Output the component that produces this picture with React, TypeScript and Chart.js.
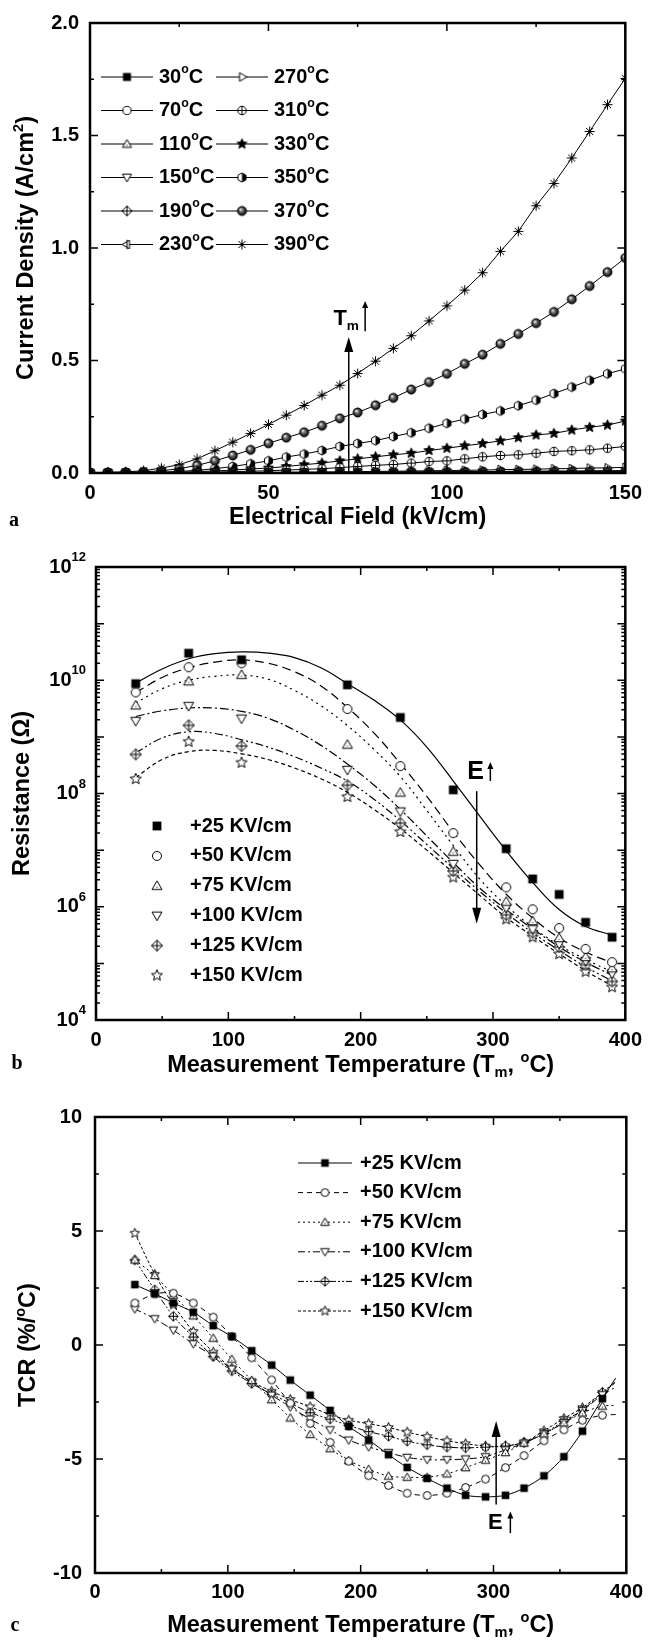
import { useEffect, useRef } from 'react';
import { Chart, registerables } from 'chart.js';
Chart.register(...registerables);

const FONT = '"Liberation Sans", Arial, Helvetica, sans-serif';
const SERIF = '"Liberation Serif", "Times New Roman", serif';

// ---------------- Panel a : current density vs field ----------------
const fieldA = [0, 5, 10, 15, 20, 25, 30, 35, 40, 45, 50, 55, 60, 65, 70, 75, 80, 85, 90, 95, 100, 105, 110, 115, 120, 125, 130, 135, 140, 145, 150];
const tempLabelsA = ['30', '70', '110', '150', '190', '230', '270', '310', '330', '350', '370', '390'];
const jd30 = [0, 0, 0, 0, 0, 0, 0, 0, 0, 0, 0, 0, 0, 0, 0, 0, 0, 0, 0, 0, 0, 0, 0, 0, 0, 0, 0, 0, 0, 0, 0];
const jd70 = [0, 0, 0, 0, 0, 0, 0, 0, 0, 0, 0, 0, 0, 0, 0, 0, 0, 0, 0, 0, 0.001, 0.001, 0.001, 0.001, 0.001, 0.001, 0.001, 0.002, 0.002, 0.002, 0.002];
const jd110 = [0, 0, 0, 0, 0, 0, 0, 0, 0, 0, 0, 0, 0, 0, 0.001, 0.001, 0.001, 0.001, 0.001, 0.001, 0.001, 0.002, 0.002, 0.002, 0.002, 0.002, 0.003, 0.003, 0.003, 0.003, 0.004];
const jd150 = [0, 0, 0, 0, 0, 0, 0, 0, 0, 0, 0.001, 0.001, 0.001, 0.001, 0.001, 0.002, 0.002, 0.002, 0.002, 0.003, 0.003, 0.003, 0.003, 0.004, 0.004, 0.004, 0.005, 0.005, 0.005, 0.006, 0.006];
const jd190 = [0, 0, 0, 0, 0, 0, 0, 0, 0.001, 0.001, 0.001, 0.001, 0.002, 0.002, 0.002, 0.003, 0.003, 0.003, 0.004, 0.004, 0.004, 0.005, 0.005, 0.005, 0.006, 0.006, 0.007, 0.007, 0.007, 0.008, 0.008];
const jd230 = [0, 0, 0, 0, 0, 0, 0, 0.001, 0.001, 0.001, 0.002, 0.002, 0.002, 0.003, 0.003, 0.003, 0.004, 0.004, 0.005, 0.005, 0.006, 0.006, 0.007, 0.007, 0.008, 0.008, 0.009, 0.009, 0.010, 0.010, 0.011];
const jd270 = [0, 0, 0, 0, 0, 0, 0.001, 0.001, 0.002, 0.002, 0.003, 0.003, 0.004, 0.004, 0.005, 0.006, 0.007, 0.008, 0.009, 0.010, 0.011, 0.012, 0.013, 0.015, 0.016, 0.017, 0.019, 0.020, 0.022, 0.023, 0.025];
const jd310 = [0.001, 0.001, 0.001, 0.001, 0.001, 0.002, 0.003, 0.004, 0.006, 0.008, 0.010, 0.013, 0.016, 0.019, 0.024, 0.029, 0.034, 0.038, 0.044, 0.051, 0.054, 0.063, 0.072, 0.078, 0.081, 0.088, 0.096, 0.099, 0.103, 0.110, 0.118];
const jd330 = [0.001, 0.001, 0.001, 0.001, 0.002, 0.004, 0.006, 0.009, 0.013, 0.018, 0.022, 0.029, 0.037, 0.044, 0.054, 0.063, 0.072, 0.081, 0.088, 0.100, 0.110, 0.121, 0.131, 0.143, 0.157, 0.169, 0.176, 0.191, 0.203, 0.213, 0.231];
const jd350 = [0.001, 0.001, 0.001, 0.002, 0.004, 0.007, 0.012, 0.019, 0.029, 0.041, 0.054, 0.071, 0.084, 0.100, 0.118, 0.131, 0.144, 0.162, 0.179, 0.199, 0.221, 0.240, 0.260, 0.276, 0.299, 0.324, 0.353, 0.382, 0.412, 0.441, 0.463];
const jd370 = [0.001, 0.002, 0.003, 0.005, 0.010, 0.019, 0.034, 0.054, 0.078, 0.103, 0.132, 0.157, 0.181, 0.210, 0.243, 0.269, 0.301, 0.334, 0.371, 0.404, 0.441, 0.485, 0.526, 0.574, 0.618, 0.666, 0.716, 0.772, 0.831, 0.893, 0.956];
const jd390 = [0.002, 0.003, 0.005, 0.010, 0.022, 0.037, 0.063, 0.099, 0.137, 0.176, 0.216, 0.257, 0.300, 0.346, 0.390, 0.442, 0.497, 0.554, 0.610, 0.676, 0.743, 0.813, 0.890, 0.985, 1.074, 1.188, 1.287, 1.400, 1.518, 1.637, 1.754];
const seriesA = [jd30, jd70, jd110, jd150, jd190, jd230, jd270, jd310, jd330, jd350, jd370, jd390];

// ---------------- Panel b : resistance vs temperature ----------------
const fieldLabels = ['+25 KV/cm', '+50 KV/cm', '+75 KV/cm', '+100 KV/cm', '+125 KV/cm', '+150 KV/cm'];
const tempsB = [30, 70, 110, 190, 230, 270, 310, 330, 350, 370, 390];
const res25 = [8.7e9, 3.0e10, 2.3e10, 8.3e9, 2.2e9, 1.16e8, 1.06e7, 3.1e6, 1.65e6, 5.3e5, 2.9e5];
const res50 = [6.1e9, 1.7e10, 2.0e10, 3.1e9, 3.05e8, 2.0e7, 2.2e6, 9.0e5, 4.2e5, 1.8e5, 1.05e5];
const res75 = [3.6e9, 9.6e9, 1.25e10, 7.3e8, 1.04e8, 9.4e6, 1.23e6, 5.6e5, 2.8e5, 1.3e5, 8.2e4];
const res100 = [1.9e9, 3.5e9, 2.1e9, 2.6e8, 4.8e7, 5.7e6, 9.6e5, 4.0e5, 2.2e5, 1.1e5, 6.6e4];
const res125 = [4.9e8, 1.6e9, 6.9e8, 1.4e8, 3.0e7, 4.3e6, 7.2e5, 3.5e5, 1.95e5, 9.5e4, 4.8e4];
const res150 = [1.8e8, 8.2e8, 3.5e8, 8.7e7, 2.1e7, 3.3e6, 6.0e5, 2.9e5, 1.46e5, 7.1e4, 3.8e4];
const resB = [res25, res50, res75, res100, res125, res150];
// fitted curves (log10 of resistance) read at these temperatures
const fitT = [30, 50, 70, 90, 110, 130, 150, 170, 190, 210, 230, 250, 270, 290, 310, 330, 350, 370, 390];
const fit25Log = [9.95, 10.2, 10.38, 10.47, 10.5, 10.48, 10.4, 10.22, 9.94, 9.65, 9.3, 8.82, 8.22, 7.6, 6.99, 6.43, 5.95, 5.65, 5.5];
const fit50Log = [9.78, 10.05, 10.22, 10.32, 10.36, 10.3, 10.15, 9.9, 9.52, 9.07, 8.53, 7.95, 7.32, 6.74, 6.22, 5.8, 5.45, 5.2, 5.01];
const fit75Log = [9.6, 9.85, 10.0, 10.07, 10.09, 10.02, 9.82, 9.55, 9.2, 8.78, 8.3, 7.7, 7.08, 6.49, 6.02, 5.64, 5.32, 5.07, 4.85];
const fit100Log = [9.36, 9.46, 9.51, 9.51, 9.45, 9.33, 9.12, 8.85, 8.52, 8.15, 7.72, 7.25, 6.78, 6.33, 5.95, 5.61, 5.29, 5.02, 4.79];
const fit125Log = [8.72, 8.98, 9.09, 9.06, 8.95, 8.82, 8.65, 8.45, 8.22, 7.9, 7.52, 7.1, 6.68, 6.27, 5.89, 5.54, 5.23, 4.94, 4.69];
const fit150Log = [8.28, 8.6, 8.74, 8.76, 8.7, 8.6, 8.45, 8.26, 8.02, 7.72, 7.38, 7.0, 6.6, 6.2, 5.81, 5.48, 5.17, 4.87, 4.6];
const fitsB = [fit25Log, fit50Log, fit75Log, fit100Log, fit125Log, fit150Log];
const logLabelExps = [4, 6, 8, 10, 12];

// ---------------- Panel c : TCR vs temperature ----------------
const tempsC = [30, 45, 59, 74, 89, 103, 118, 133, 147, 162, 177, 191, 206, 221, 235, 250, 265, 279, 294, 309, 323, 338, 353, 367, 382, 392];
const tcr25 = [2.65, 2.25, 1.84, 1.44, 0.85, 0.37, -0.25, -0.88, -1.54, -2.2, -2.87, -3.57, -4.16, -4.81, -5.37, -5.85, -6.28, -6.59, -6.66, -6.59, -6.28, -5.74, -4.9, -3.78, -2.35, -1.45];
const tcr50 = [1.84, 2.24, 2.27, 1.84, 1.22, 0.38, -0.56, -1.53, -2.55, -3.44, -4.27, -5.1, -5.73, -6.16, -6.5, -6.6, -6.5, -6.25, -5.88, -5.38, -4.85, -4.2, -3.72, -3.3, -3.08, -3.05];
const tcr75 = [3.73, 3.05, 2.18, 1.28, 0.3, -0.62, -1.55, -2.4, -3.2, -3.92, -4.55, -5.07, -5.45, -5.75, -5.8, -5.8, -5.65, -5.38, -5.05, -4.72, -4.3, -3.9, -3.42, -2.98, -2.68, -2.65];
const tcr100 = [1.58, 1.15, 0.65, 0.05, -0.48, -1.05, -1.62, -2.2, -2.72, -3.25, -3.72, -4.17, -4.47, -4.72, -4.93, -5.03, -5.03, -5.0, -4.9, -4.6, -4.3, -3.9, -3.4, -2.88, -2.18, -1.85];
const tcr125 = [3.73, 2.42, 1.26, 0.35, -0.51, -1.14, -1.69, -2.16, -2.55, -2.97, -3.25, -3.53, -3.8, -4.0, -4.22, -4.38, -4.48, -4.51, -4.48, -4.43, -4.27, -3.88, -3.33, -2.86, -2.08, -1.6];
const tcr150 = [4.9, 3.1, 1.76, 0.59, -0.31, -1.03, -1.61, -2.03, -2.39, -2.71, -3.05, -3.3, -3.45, -3.62, -3.82, -4.02, -4.2, -4.33, -4.43, -4.43, -4.27, -3.76, -3.22, -2.75, -2.08, -1.65];
const tcrC = [tcr25, tcr50, tcr75, tcr100, tcr125, tcr150];

// ---------------- styles ----------------
const kindsA = ['square', 'circle', 'triUp', 'triDown', 'diamondCross', 'triLeftBar', 'triRight', 'circlePlus', 'starFilled', 'halfHex', 'ball', 'asterisk'];
const kindsE = ['square', 'circle', 'triUp', 'triDown', 'diamondCross', 'starOpen'];
const dashesB = [[], [9, 5], [2, 4], [9, 3, 2, 3], [8, 3, 2, 3, 2, 3], [4, 3]];
const dashesC = [[], [5, 4], [2, 3], [7, 3, 2, 3], [6, 2, 2, 2, 2, 2], [3, 2]];

function poly(g: any, pts: number[][]) {
  g.beginPath();
  pts.forEach(([x, y], i) => (i ? g.lineTo(x, y) : g.moveTo(x, y)));
  g.closePath();
}
function regPts(n: number, r: number, rot: number) {
  const p: number[][] = [];
  for (let k = 0; k < n; k++) {
    const a = rot - Math.PI / 2 + (k * 2 * Math.PI) / n;
    p.push([r * Math.cos(a), r * Math.sin(a)]);
  }
  return p;
}
function starPts(r: number) {
  const p: number[][] = [];
  for (let k = 0; k < 10; k++) {
    const a = -Math.PI / 2 + (k * Math.PI) / 5;
    const rr = k % 2 ? r * 0.45 : r;
    p.push([rr * Math.cos(a), rr * Math.sin(a)]);
  }
  return p;
}
function drawShape(g: any, kind: string, r: number) {
  g.lineWidth = 1;
  g.strokeStyle = '#000';
  g.fillStyle = '#fff';
  const line = (x1: number, y1: number, x2: number, y2: number) => {
    g.beginPath(); g.moveTo(x1, y1); g.lineTo(x2, y2); g.stroke();
  };
  switch (kind) {
    case 'square':
      g.fillStyle = '#000';
      g.fillRect(-r * 0.8, -r * 0.8, r * 1.6, r * 1.6);
      break;
    case 'circle':
      g.beginPath(); g.arc(0, 0, r * 0.82, 0, Math.PI * 2); g.fill(); g.stroke();
      break;
    case 'circlePlus':
      g.beginPath(); g.arc(0, 0, r * 0.85, 0, Math.PI * 2); g.fill(); g.stroke();
      line(-r * 0.85, 0, r * 0.85, 0); line(0, -r * 0.85, 0, r * 0.85);
      break;
    case 'triUp':
      g.translate(0, r * 0.15);
      poly(g, regPts(3, r * 1.05, 0)); g.fill(); g.stroke();
      g.fillStyle = '#000'; g.fillRect(-0.5, 0, 1, 1);
      break;
    case 'triDown':
      g.translate(0, -r * 0.15);
      poly(g, regPts(3, r * 1.05, Math.PI)); g.fill(); g.stroke();
      break;
    case 'triRight':
      poly(g, regPts(3, r * 1.0, Math.PI / 2)); g.fill(); g.stroke();
      break;
    case 'triLeftBar':
      poly(g, regPts(3, r * 1.0, -Math.PI / 2)); g.fill(); g.stroke();
      line(0, -r * 0.95, 0, r * 0.95);
      break;
    case 'diamondCross':
      poly(g, [[0, -r], [r, 0], [0, r], [-r, 0]]); g.fill(); g.stroke();
      line(-r, 0, r, 0); line(0, -r, 0, r);
      break;
    case 'starFilled':
      poly(g, starPts(r * 1.05)); g.fillStyle = '#000'; g.fill(); g.stroke();
      break;
    case 'starOpen':
      poly(g, starPts(r * 1.05)); g.fill(); g.stroke();
      break;
    case 'halfHex': {
      const pts = regPts(6, r * 0.92, 0);
      poly(g, pts); g.fill();
      g.save(); poly(g, pts); g.clip();
      g.fillStyle = '#000'; g.fillRect(0, -r, r, 2 * r);
      g.restore();
      poly(g, pts); g.stroke();
      break;
    }
    case 'ball': {
      const gr = g.createRadialGradient(-r * 0.3, -r * 0.35, r * 0.05, 0, 0, r * 0.9);
      gr.addColorStop(0, '#ffffff');
      gr.addColorStop(0.35, '#777777');
      gr.addColorStop(1, '#000000');
      g.beginPath(); g.arc(0, 0, r * 0.9, 0, Math.PI * 2); g.fillStyle = gr; g.fill();
      g.stroke();
      break;
    }
    case 'asterisk':
      for (let k = 0; k < 4; k++) {
        const a = (k * Math.PI) / 4;
        line(-r * Math.cos(a), -r * Math.sin(a), r * Math.cos(a), r * Math.sin(a));
      }
      break;
  }
}
function makeMarker(kind: string, size: number): HTMLCanvasElement {
  const s = Math.ceil(size) + 5;
  const c = document.createElement('canvas');
  c.width = s; c.height = s;
  const g = c.getContext('2d') as any;
  g.translate(s / 2, s / 2);
  drawShape(g, kind, size / 2);
  return c;
}

type Seg = [string, number];
function drawRich(ctx: any, segs: Seg[], x: number, y: number, size: number, align: string) {
  const small = size * 0.62;
  ctx.textBaseline = 'middle';
  ctx.textAlign = 'left';
  ctx.fillStyle = '#000';
  const widths = segs.map(([t, k]) => {
    ctx.font = `bold ${k ? small : size}px ${FONT}`;
    return ctx.measureText(t).width;
  });
  const total = widths.reduce((a, b) => a + b, 0);
  let cx = align === 'left' ? x : align === 'center' ? x - total / 2 : x - total;
  segs.forEach(([t, k], i) => {
    ctx.font = `bold ${k ? small : size}px ${FONT}`;
    const dy = k === 1 ? -size * 0.36 : k === -1 ? size * 0.3 : 0;
    ctx.fillText(t, cx, y + dy);
    cx += widths[i];
  });
}
function drawRotated(ctx: any, segs: Seg[], x: number, y: number, size: number) {
  ctx.save();
  ctx.translate(x, y);
  ctx.rotate(-Math.PI / 2);
  drawRich(ctx, segs, 0, 0, size, 'center');
  ctx.restore();
}
function vArrow(ctx: any, x: number, yFrom: number, yTo: number, head: number, hw: number, lw: number) {
  const dir = yTo < yFrom ? -1 : 1;
  ctx.save();
  ctx.strokeStyle = '#000';
  ctx.fillStyle = '#000';
  ctx.lineWidth = lw;
  ctx.beginPath(); ctx.moveTo(x, yFrom); ctx.lineTo(x, yTo - dir * head * 0.7); ctx.stroke();
  ctx.beginPath(); ctx.moveTo(x, yTo); ctx.lineTo(x - hw, yTo - dir * head); ctx.lineTo(x + hw, yTo - dir * head); ctx.closePath(); ctx.fill();
  ctx.restore();
}
function drawFrame(chart: any, xMaj: number[], xMin: number[], yMaj: number[], yMin: number[]) {
  const { ctx, chartArea: a, scales } = chart;
  const xs = scales.x, ys = scales.y;
  ctx.save();
  ctx.strokeStyle = '#000';
  ctx.lineWidth = 1.5;
  const xt = (v: number, len: number) => {
    const p = xs.getPixelForValue(v);
    ctx.beginPath();
    ctx.moveTo(p, a.bottom); ctx.lineTo(p, a.bottom - len);
    ctx.moveTo(p, a.top); ctx.lineTo(p, a.top + len);
    ctx.stroke();
  };
  const yt = (v: number, len: number) => {
    const p = ys.getPixelForValue(v);
    ctx.beginPath();
    ctx.moveTo(a.left, p); ctx.lineTo(a.left + len, p);
    ctx.moveTo(a.right, p); ctx.lineTo(a.right - len, p);
    ctx.stroke();
  };
  xMaj.forEach((v) => xt(v, 8));
  xMin.forEach((v) => xt(v, 4));
  yMaj.forEach((v) => yt(v, 8));
  yMin.forEach((v) => yt(v, 4));
  ctx.lineWidth = 2.5;
  ctx.strokeRect(a.left, a.top, a.right - a.left, a.bottom - a.top);
  ctx.restore();
}
function panelLabel(ctx: any, t: string, x: number, y: number) {
  ctx.save();
  ctx.font = `bold 20px ${SERIF}`;
  ctx.fillStyle = '#000';
  ctx.textAlign = 'center';
  ctx.textBaseline = 'middle';
  ctx.fillText(t, x, y);
  ctx.restore();
}

const tickFont = { family: FONT, size: 20, weight: 'bold' as const };
function linScale(min: number, max: number, step: number, pad: number, horizontal: boolean, fmt?: any) {
  const ticks: any = { stepSize: step, padding: pad, font: tickFont, color: '#000', autoSkip: false, maxRotation: 0, includeBounds: true };
  if (fmt) ticks.callback = fmt;
  return {
    type: 'linear', min, max,
    grid: { display: false, drawTicks: false },
    border: { display: false },
    ticks,
    afterFit: horizontal ? (s: any) => { s.height = 40; } : (s: any) => { s.width = 70; },
  };
}
const common = {
  responsive: false,
  animation: false,
  devicePixelRatio: 1,
  events: [],
  plugins: { legend: { display: false }, tooltip: { enabled: false } },
};

function buildA(canvas: HTMLCanvasElement) {
  const markers = kindsA.map((k) => makeMarker(k, 10));
  const datasets = seriesA.map((vals, i) => ({
    label: tempLabelsA[i],
    data: vals.map((v, k) => ({ x: fieldA[k], y: v })),
    borderColor: '#000', backgroundColor: '#000', borderWidth: 1,
    pointStyle: markers[i], pointRadius: 5, tension: 0, fill: false,
  }));
  return new Chart(canvas, {
    type: 'line',
    data: { datasets },
    options: {
      ...common,
      layout: { padding: { left: 20, right: 21, top: 19, bottom: 32 } },
      scales: {
        x: linScale(0, 150, 50, 8, true),
        y: linScale(0, 2, 0.5, 11, false, (v: any) => Number(v).toFixed(1)),
      },
    } as any,
    plugins: [{
      id: 'decoA',
      afterDraw(chart: any) {
        const { ctx, chartArea: a, scales: { x, y } } = chart;
        drawFrame(chart, [0, 50, 100, 150], [25, 75, 125], [0, 0.5, 1, 1.5, 2], [0.25, 0.75, 1.25, 1.75]);
        drawRich(ctx, [['Electrical Field (kV/cm)', 0]], (a.left + a.right) / 2, 518, 23.5, 'center');
        drawRotated(ctx, [['Current Density (A/cm', 0], ['2', 1], [')', 0]], 27, (a.top + a.bottom) / 2, 23.5);
        panelLabel(ctx, 'a', 14, 521);
        // legend
        ctx.save();
        tempLabelsA.forEach((t, i) => {
          const col = Math.floor(i / 6), row = i % 6;
          const dx = col * 115, yy = 77 + row * 33.5;
          ctx.strokeStyle = '#000'; ctx.lineWidth = 1;
          ctx.beginPath(); ctx.moveTo(101 + dx, yy); ctx.lineTo(153 + dx, yy); ctx.stroke();
          const m = markers[i];
          ctx.drawImage(m, 127 + dx - m.width / 2, yy - m.height / 2);
          drawRich(ctx, [[t, 0], ['o', 1], ['C', 0]], 159 + dx, yy, 20, 'left');
        });
        ctx.restore();
        // Tm arrow
        const ax = x.getPixelForValue(72.5);
        vArrow(ctx, ax, y.getPixelForValue(0), y.getPixelForValue(0.605), 15, 4.5, 1.5);
        drawRich(ctx, [['T', 0], ['m', -1]], x.getPixelForValue(68.2), y.getPixelForValue(0.683), 22, 'left');
        const sx = x.getPixelForValue(77.1);
        vArrow(ctx, sx, y.getPixelForValue(0.63), y.getPixelForValue(0.765), 7, 3, 1.5);
      },
    }],
  } as any);
}

function buildB(canvas: HTMLCanvasElement) {
  const markers = kindsE.map((k) => makeMarker(k, 11));
  const pts = resB.map((vals, i) => ({
    label: fieldLabels[i],
    data: vals.map((v, k) => ({ x: tempsB[k], y: v })),
    showLine: false, borderColor: '#000', backgroundColor: '#000',
    pointStyle: markers[i], pointRadius: 5.5,
  }));
  const fits = fitsB.map((vals, i) => ({
    label: fieldLabels[i] + ' fit',
    data: vals.map((v, k) => ({ x: fitT[k], y: Math.pow(10, v) })),
    borderColor: '#000', borderWidth: 1.2, borderDash: dashesB[i],
    pointRadius: 0, tension: 0.4, fill: false,
  }));
  return new Chart(canvas, {
    type: 'line',
    data: { datasets: [...pts, ...fits] },
    options: {
      ...common,
      layout: { padding: { left: 26, right: 17, top: 22, bottom: 30 } },
      scales: {
        x: linScale(0, 400, 100, 8, true),
        y: {
          type: 'logarithmic', min: 1e4, max: 1e12,
          grid: { display: false, drawTicks: false }, border: { display: false },
          ticks: { display: false },
          afterFit: (s: any) => { s.width = 70; },
        },
      },
    } as any,
    plugins: [{
      id: 'decoB',
      afterDraw(chart: any) {
        const { ctx, chartArea: a, scales: { x, y } } = chart;
        const yMaj: number[] = [], yMin: number[] = [];
        for (let e = 4; e <= 12; e++) {
          yMaj.push(Math.pow(10, e));
          if (e < 12) for (let k = 2; k <= 9; k++) yMin.push(k * Math.pow(10, e));
        }
        drawFrame(chart, [0, 100, 200, 300, 400], [50, 150, 250, 350], yMaj, yMin);
        ctx.save();
        ctx.fillStyle = '#000';
        ctx.textBaseline = 'middle';
        logLabelExps.forEach((e) => {
          const py = y.getPixelForValue(Math.pow(10, e));
          ctx.font = `bold 13px ${FONT}`;
          const ew = ctx.measureText(String(e)).width;
          ctx.textAlign = 'left';
          ctx.fillText(String(e), 86 - ew, py - 9.5);
          ctx.font = `bold 20px ${FONT}`;
          ctx.textAlign = 'right';
          ctx.fillText('10', 86 - ew, py);
        });
        ctx.restore();
        drawRich(ctx, [['Measurement Temperature (T', 0], ['m', -1], [', ', 0], ['o', 1], ['C)', 0]], (a.left + a.right) / 2, 521, 23.5, 'center');
        drawRotated(ctx, [['Resistance (\u03A9)', 0]], 23, (a.top + a.bottom) / 2, 23.5);
        panelLabel(ctx, 'b', 17, 519);
        fieldLabels.forEach((t, i) => {
          const yy = 281 + i * 29.9;
          const m = markers[i];
          ctx.drawImage(m, 157 - m.width / 2, yy - m.height / 2);
          drawRich(ctx, [[t, 0]], 190, yy, 20, 'left');
        });
        const ax = x.getPixelForValue(287.7);
        vArrow(ctx, ax, y.getPixelForValue(1.1e8), y.getPixelForValue(5e5), 16, 4.5, 1.5);
        drawRich(ctx, [['E', 0]], x.getPixelForValue(286.8), y.getPixelForValue(2.4e8), 25, 'center');
        vArrow(ctx, x.getPixelForValue(298), y.getPixelForValue(1.66e8), y.getPixelForValue(3.6e8), 7, 3, 1.5);
      },
    }],
  } as any);
}

function buildC(canvas: HTMLCanvasElement) {
  const markers = kindsE.map((k) => makeMarker(k, 9.5));
  const last = tempsC.length - 1;
  const datasets = tcrC.map((vals, i) => ({
    label: fieldLabels[i],
    data: vals.map((v, k) => ({ x: tempsC[k], y: v })),
    borderColor: '#000', backgroundColor: '#000', borderWidth: 1, borderDash: dashesC[i],
    pointStyle: markers[i], pointRadius: (c: any) => (c.dataIndex === last ? 0 : 4.5),
    tension: 0.3, fill: false,
  }));
  return new Chart(canvas, {
    type: 'line',
    data: { datasets },
    options: {
      ...common,
      layout: { padding: { left: 25, right: 17, top: 27, bottom: 28 } },
      scales: {
        x: linScale(0, 400, 100, 7, true),
        y: linScale(-10, 10, 5, 13, false),
      },
    } as any,
    plugins: [{
      id: 'decoC',
      afterDraw(chart: any) {
        const { ctx, chartArea: a, scales: { x, y } } = chart;
        drawFrame(chart, [0, 100, 200, 300, 400], [50, 150, 250, 350], [-10, -5, 0, 5, 10], [-7.5, -2.5, 2.5, 7.5]);
        drawRich(ctx, [['Measurement Temperature (T', 0], ['m', -1], [', ', 0], ['o', 1], ['C)', 0]], (a.left + a.right) / 2, 536, 23.5, 'center');
        drawRotated(ctx, [['TCR (%/', 0], ['o', 1], ['C)', 0]], 29, (a.top + a.bottom) / 2, 23.5);
        panelLabel(ctx, 'c', 15, 536);
        fieldLabels.forEach((t, i) => {
          const yy = 73 + i * 29.6;
          ctx.save();
          ctx.strokeStyle = '#000'; ctx.lineWidth = 1;
          ctx.setLineDash(dashesC[i]);
          ctx.beginPath(); ctx.moveTo(298, yy); ctx.lineTo(352, yy); ctx.stroke();
          ctx.restore();
          const m = markers[i];
          ctx.drawImage(m, 325 - m.width / 2, yy - m.height / 2);
          drawRich(ctx, [[t, 0]], 360, yy, 20, 'left');
        });
        vArrow(ctx, x.getPixelForValue(302), y.getPixelForValue(-7.0), y.getPixelForValue(-3.33), 16, 4.5, 1.5);
        drawRich(ctx, [['E', 0]], x.getPixelForValue(301.3), y.getPixelForValue(-7.8), 22, 'center');
        vArrow(ctx, x.getPixelForValue(312.7), y.getPixelForValue(-8.25), y.getPixelForValue(-7.3), 7, 3, 1.5);
      },
    }],
  } as any);
}

export default function App() {
  const refA = useRef<HTMLCanvasElement>(null);
  const refB = useRef<HTMLCanvasElement>(null);
  const refC = useRef<HTMLCanvasElement>(null);
  useEffect(() => {
    const charts = [buildA(refA.current!), buildB(refB.current!), buildC(refC.current!)];
    return () => charts.forEach((c) => c.destroy());
  }, []);
  const cs = (top: number, h: number) => ({ position: 'absolute' as const, left: 0, top, width: 650, height: h });
  return (
    <div style={{ position: 'absolute', left: 0, top: 0, width: 650, height: 1641, background: '#fff' }}>
      <canvas ref={refA} width={650} height={545} style={cs(0, 545)} />
      <canvas ref={refB} width={650} height={545} style={cs(545, 545)} />
      <canvas ref={refC} width={650} height={551} style={cs(1090, 551)} />
    </div>
  );
}
